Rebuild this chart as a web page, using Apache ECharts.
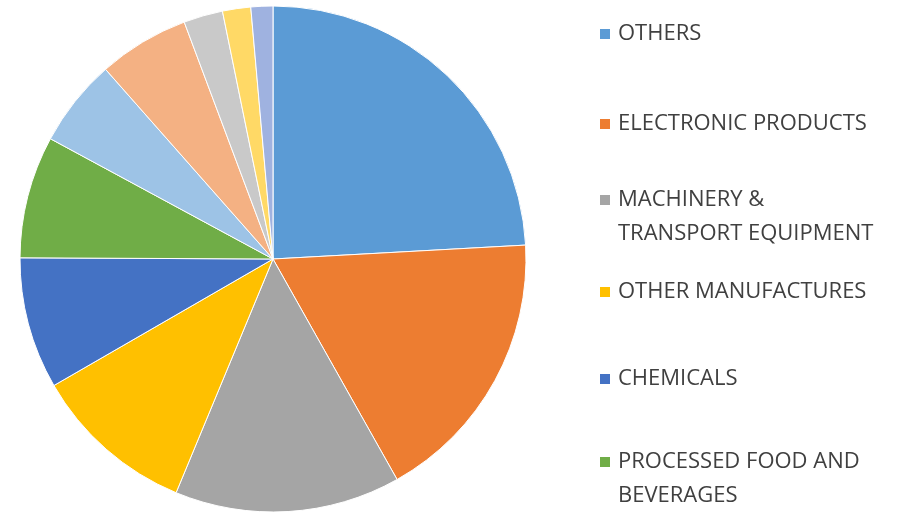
<!DOCTYPE html>
<html>
<head>
<meta charset="utf-8">
<style>
  html, body { margin: 0; padding: 0; background: #ffffff; }
  #chart { width: 901px; height: 514px; }
</style>
<script src="https://cdn.jsdelivr.net/npm/echarts@6/dist/echarts.min.js"></script>
</head>
<body>
<div id="chart"></div>
<script>
// Category names (clockwise from 12 o'clock); the last five are not listed in the visible legend
const categories = [
  'OTHERS',
  'ELECTRONIC PRODUCTS',
  'MACHINERY &\nTRANSPORT EQUIPMENT',
  'OTHER MANUFACTURES',
  'CHEMICALS',
  'PROCESSED FOOD AND\nBEVERAGES',
  'CATEGORY 7',
  'CATEGORY 8',
  'CATEGORY 9',
  'CATEGORY 10',
  'CATEGORY 11'
];
// Share of each slice (percent)
const shares = [24.1, 17.7, 14.4, 10.4, 8.4, 7.8, 5.6, 5.8, 2.5, 1.8, 1.4];
const colors = ['#5B9BD5', '#ED7D31', '#A5A5A5', '#FFC000', '#4472C4', '#70AD47',
                '#9DC3E6', '#F4B183', '#C9C9C9', '#FFD966', '#9FB2E0'];
// Names shown in the legend
const legendNames = categories.slice(0, 6);

const chart = echarts.init(document.getElementById('chart'), null, { renderer: 'canvas' });

const legendTops = [17, 107, 183, 275, 362, 445];
const legends = legendNames.map((name, i) => {
  const twoLine = name.indexOf('\n') >= 0;
  return {
    orient: 'vertical',
    left: 600,
    top: legendTops[i],
    padding: 0,
    itemWidth: 10,
    itemHeight: twoLine ? 44 : 10,
    // square sits at the top of the box so it lines up with the first text line
    icon: twoLine ? 'path://M0,0h10v10h-10z M0,44L0.001,44' : 'rect',
    selectedMode: false,
    data: [name],
    itemStyle: { borderWidth: 0 },
    textStyle: {
      fontFamily: 'Open Sans',
      fontSize: 22,
      color: '#404040',
      lineHeight: 34,
      padding: [0, 0, 0, 3]
    }
  };
});

chart.setOption({
  animation: false,
  backgroundColor: '#ffffff',
  color: colors,
  legend: legends,
  series: [{
    type: 'pie',
    center: [273, 259],
    radius: [0, 253],
    startAngle: 90,
    clockwise: true,
    label: { show: false },
    labelLine: { show: false },
    emphasis: { disabled: true },
    itemStyle: { borderColor: '#ffffff', borderWidth: 1 },
    data: categories.map((name, i) => ({ name: name, value: shares[i] }))
  }]
});
</script>
</body>
</html>
